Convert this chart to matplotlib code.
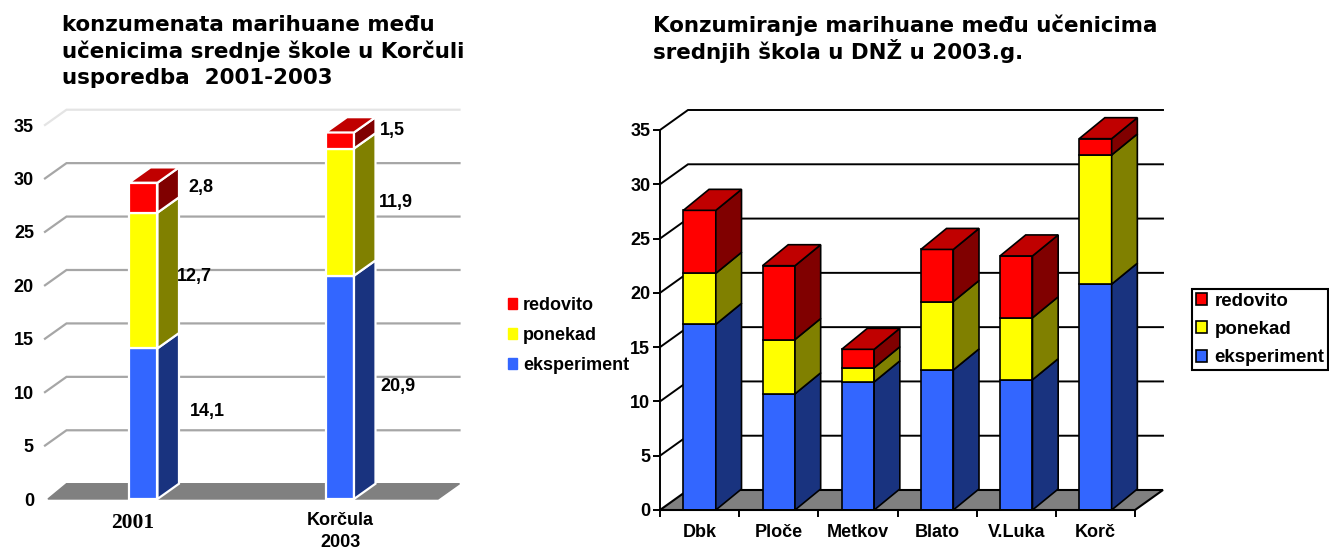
import numpy as np
import matplotlib.pyplot as plt
from matplotlib.patches import Patch

plt.rcParams['font.family'] = ['Liberation Sans', 'DejaVu Sans']

W, H = 1329, 551

# podaci, lijevi graf
kat_lijevo = ["2001", "Korčula\n2003"]
eksperiment_lijevo = [14.1, 20.9]
ponekad_lijevo = [12.7, 11.9]
redovito_lijevo = [2.8, 1.5]

# podaci, desni graf
kat_desno = ["Dbk", "Ploče", "Metkov", "Blato", "V.Luka", "Korč"]
eksperiment_desno = [17.1, 10.7, 11.8, 12.9, 12.0, 20.8]
ponekad_desno = [4.7, 5.0, 1.3, 6.3, 5.7, 11.9]
redovito_desno = [5.8, 6.8, 1.7, 4.8, 5.7, 1.5]

serije = ["eksperiment", "ponekad", "redovito"]
y_ticks = [0, 5, 10, 15, 20, 25, 30, 35]

title_lijevo = "konzumenata marihuane među\nučenicima srednje škole u Korčuli\nusporedba  2001-2003"
title_desno = "Konzumiranje marihuane među učenicima\nsrednjih škola u DNŽ u 2003.g."

front = ["#3366ff", "#ffff00", "#ff0000"]
side = ["#19337f", "#808000", "#800000"]
TOP = "#c00000"
FLOOR = "#808080"


def makeAxes(fig, x0, x1, y0, y35, ncat):
    # pikseli slike -> pozicija osi
    ax = fig.add_axes([x0 / W, 1 - y0 / H, (x1 - x0) / W, (y0 - y35) / H])
    ax.set_xlim(0, ncat)
    ax.set_ylim(0, 35)
    ax.patch.set_visible(False)
    return ax


def stacked3d(ax, centers, rows, width, dx, dy, edge, lw):
    """rows : lista serija odozdo prema gore, dx i dy dubina u jedinicama osi"""
    bottom = np.zeros(len(centers))
    for k, row in enumerate(rows):
        row = np.array(row)
        ax.bar(centers, row, width, bottom=bottom, color=front[k], edgecolor=edge,
               linewidth=lw, zorder=5, clip_on=False)
        for i, c in enumerate(centers):
            xr = c + width / 2
            ax.fill([xr, xr + dx, xr + dx, xr],
                    [bottom[i], bottom[i] + dy, bottom[i] + row[i] + dy, bottom[i] + row[i]],
                    color=side[k], ec=edge, lw=lw, zorder=5, clip_on=False)
        bottom = bottom + row
    for i, c in enumerate(centers):
        xl, xr = c - width / 2, c + width / 2
        ax.fill([xl, xr, xr + dx, xl + dx],
                [bottom[i], bottom[i], bottom[i] + dy, bottom[i] + dy],
                color=TOP, ec=edge, lw=lw, zorder=6, clip_on=False)


fig = plt.figure(figsize=(W / 100, H / 100), dpi=100)

# lijevi graf
ax1 = makeAxes(fig, 45, 438, 499, 125, 2)
dx1, dy1 = 21.5 / 196.5, 15.3 / 10.69
ax1.fill([0.015, 2, 2 + dx1, dx1], [0, 0, dy1, dy1], color=FLOOR, zorder=1, clip_on=False)
for t in y_ticks[1:]:
    c = "#e4e4e4" if t == 35 else "#a6a6a6"
    ax1.plot([0, dx1, 2 + dx1], [t, t + dy1, t + dy1], color=c, lw=1.6, zorder=2,
             clip_on=False, solid_joinstyle="miter")
centers1 = np.arange(2) + 0.5
stacked3d(ax1, centers1, [eksperiment_lijevo, ponekad_lijevo, redovito_lijevo],
          0.145, dx1, dy1, "white", 1.6)
for s in ax1.spines.values():
    s.set_visible(False)
ax1.set_yticks(y_ticks)
ax1.set_xticks([])
ax1.tick_params(axis="y", length=0, pad=8)
for lab in ax1.get_yticklabels():
    lab.set_fontsize(13)
    lab.set_fontweight("bold")

# oznake vrijednosti, pomak od sredine segmenta u pikselima
label_offs = [[(64, 12), (58, 1)], [(51, 4), (56, 10)], [(58, 10), (53, 10)]]
baza = np.zeros(2)
for k, row in enumerate([eksperiment_lijevo, ponekad_lijevo, redovito_lijevo]):
    for i in range(2):
        ax1.annotate(str(row[i]).replace(".", ","),
                     (centers1[i], baza[i] + row[i] / 2),
                     xytext=label_offs[k][i], textcoords="offset pixels",
                     ha="center", va="center", fontsize=13, fontweight="bold", zorder=8)
    baza = baza + np.array(row)

ax1.text(centers1[0] - 0.052, -2.2, kat_lijevo[0], ha="center", va="center",
         fontsize=15.5, family="Liberation Serif", fontweight="bold")
ax1.text(centers1[1] + 0.003, -3.05, kat_lijevo[1], ha="center", va="center",
         fontsize=13, fontweight="bold", linespacing=1.4)

# desni graf
ax2 = makeAxes(fig, 660, 1135, 510, 130, 6)
wall_dx, wall_dy = 28 / 79.2, 20 / 10.857
ax2.fill([0, 6, 6 + wall_dx, wall_dx], [0, 0, wall_dy, wall_dy], fc=FLOOR, ec="black",
         lw=1.5, zorder=1, clip_on=False)
for t in y_ticks[1:]:
    ax2.plot([0, wall_dx, 6 + wall_dx], [t, t + wall_dy, t + wall_dy], color="black", lw=1.4,
             zorder=2, clip_on=False, solid_joinstyle="miter")
centers2 = np.arange(6) + 0.5
stacked3d(ax2, centers2, [eksperiment_desno, ponekad_desno, redovito_desno],
          0.41, 25.7 / 79.2, 21 / 10.857, "black", 1.2)
ax2.spines["top"].set_visible(False)
ax2.spines["right"].set_visible(False)
ax2.spines["left"].set_linewidth(1.4)
ax2.spines["bottom"].set_linewidth(1.4)
ax2.spines["bottom"].set_zorder(7)
ax2.set_yticks(y_ticks)
ax2.set_xticks(np.arange(7))
ax2.set_xticklabels([])
ax2.set_xticks(centers2, minor=True)
ax2.set_xticklabels(kat_desno, minor=True, fontsize=13, fontweight="bold")
ax2.tick_params(axis="x", which="major", length=5, width=1.4)
ax2.tick_params(axis="x", which="minor", length=0, pad=10)
ax2.tick_params(axis="y", length=5, width=1.4, pad=2)
for lab in ax2.get_yticklabels():
    lab.set_fontsize(13)
    lab.set_fontweight("bold")

# naslovi
fig.text(62 / W, 1 - 15 / H, title_lijevo, ha="left", va="top", fontsize=15.4, fontweight="bold",
         family="DejaVu Sans", linespacing=1.33)
fig.text(653 / W, 1 - 15 / H, title_desno, ha="left", va="top", fontsize=15.4, fontweight="bold",
         family="DejaVu Sans", linespacing=1.14)

# legende
h1 = [Patch(color=front[k], label=serije[k]) for k in (2, 1, 0)]
fig.legend(handles=h1, loc="center left", bbox_to_anchor=(503 / W, 1 - 335.5 / H), frameon=False,
           prop={"size": 13, "weight": "bold"}, handlelength=0.5, handleheight=0.5,
           handletextpad=0.3, labelspacing=0.72, borderpad=0.3, borderaxespad=0)
h2 = [Patch(fc=front[k], ec="black", lw=1.2, label=serije[k]) for k in (2, 1, 0)]
leg = fig.legend(handles=h2, loc="center left", bbox_to_anchor=(1192 / W, 1 - 329.5 / H),
                 prop={"size": 13.5, "weight": "bold"}, handlelength=0.6, handleheight=0.6,
                 handletextpad=0.4, labelspacing=0.6, borderpad=0.2, borderaxespad=0,
                 fancybox=False, edgecolor="black", framealpha=1)
leg.get_frame().set_linewidth(1.5)

fig.savefig("out.png", dpi=100)
